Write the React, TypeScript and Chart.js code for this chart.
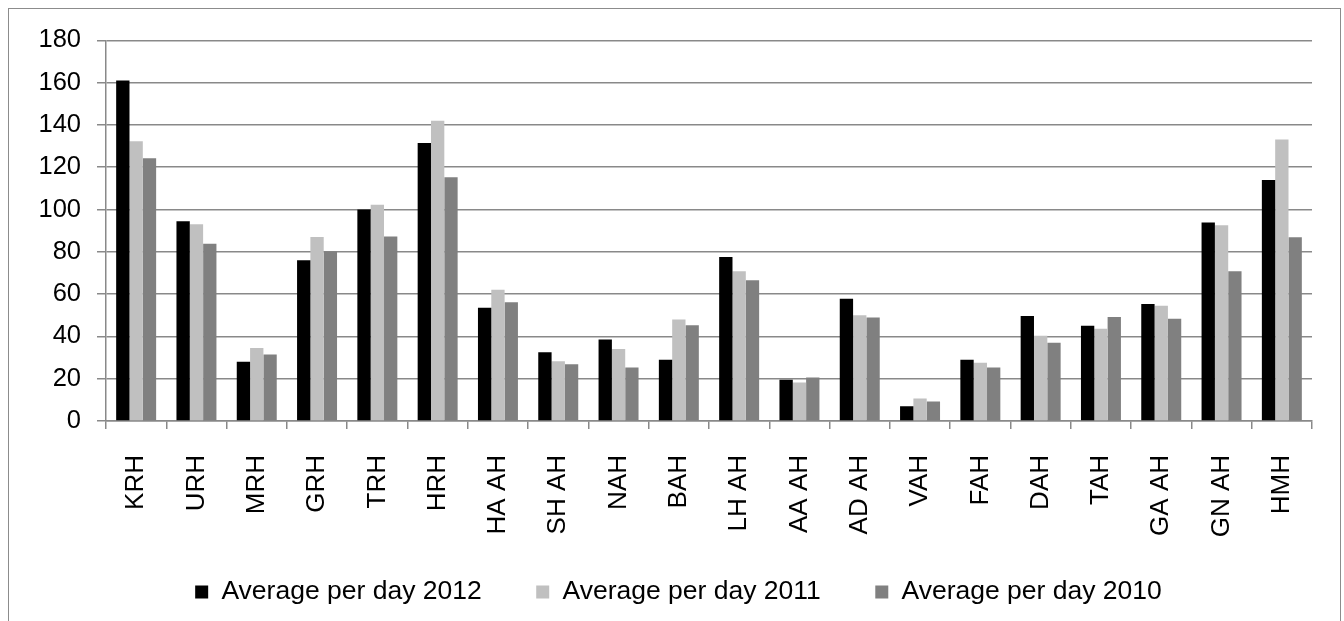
import React, { useEffect, useRef } from "react";
import { Chart, registerables } from "chart.js";

Chart.register(...registerables);

const categories = [
  "KRH", "URH", "MRH", "GRH", "TRH", "HRH", "HA AH", "SH AH", "NAH", "BAH",
  "LH AH", "AA AH", "AD AH", "VAH", "FAH", "DAH", "TAH", "GA AH", "GN AH", "HMH",
];
const avg2012 = [161, 94.5, 28, 76, 100, 131.5, 53.5, 32.5, 38.5, 29, 77.5, 19.5, 57.8, 7, 29, 49.7, 45, 55.3, 93.8, 114];
const avg2011 = [132.3, 93, 34.5, 87, 102.3, 142, 62, 28.3, 34, 48, 70.8, 18.2, 50, 10.6, 27.5, 40.3, 43.6, 54.5, 92.5, 133.1];
const avg2010 = [124.2, 83.8, 31.4, 80.2, 87.2, 115.2, 56.1, 26.8, 25.3, 45.3, 66.6, 20.6, 48.9, 9.2, 25.3, 37, 49.2, 48.4, 70.8, 86.9];
const seriesLabels = ["Average per day 2012", "Average per day 2011", "Average per day 2010"];
const seriesColors = ["#000000", "#c0c0c0", "#808080"];
const yMin = 0;
const yMax = 180;
const yStep = 20;

const FONT = "'Liberation Sans', Arial, sans-serif";
const GRID = "#898989";

export default function App() {
  const ref = useRef<HTMLCanvasElement | null>(null);

  useEffect(() => {
    if (!ref.current) return;
    const values = [avg2012, avg2011, avg2010];
    const chart = new Chart(ref.current, {
      type: "bar",
      data: {
        labels: categories,
        datasets: values.map((v, i) => ({
          label: seriesLabels[i],
          data: v,
          backgroundColor: seriesColors[i],
          borderWidth: 0,
          categoryPercentage: 0.663,
          barPercentage: 1,
        })),
      },
      options: {
        animation: false,
        responsive: false,
        devicePixelRatio: 1,
        layout: { padding: { left: 36, right: 28, top: 28, bottom: 5.75 } },
        plugins: {
          title: { display: false },
          tooltip: { enabled: false },
          legend: {
            position: "bottom",
            labels: {
              boxWidth: 13,
              boxHeight: 13,
              padding: 54.5,
              color: "#000",
              font: { family: FONT, size: 26.5 },
            },
          },
        },
        scales: {
          x: {
            offset: true,
            grid: {
              offset: true,
              drawOnChartArea: false,
              drawTicks: true,
              tickLength: 8,
              color: GRID,
              lineWidth: 1.5,
            },
            border: { display: true, color: GRID, width: 1.5 },
            ticks: {
              autoSkip: false,
              minRotation: 90,
              maxRotation: 90,
              padding: 26,
              color: "#000",
              font: { family: FONT, size: 26 },
            },
            afterFit: (scale: any) => {
              scale.height = 103.25;
              scale._computeLabelArea = () => null;
            },
          },
          y: {
            min: yMin,
            max: yMax,
            ticks: {
              stepSize: yStep,
              padding: 16,
              color: "#000",
              font: { family: FONT, size: 25.5 },
            },
            grid: {
              color: GRID,
              lineWidth: 1.5,
              drawTicks: true,
              tickLength: 9,
            },
            border: { display: true, color: GRID, width: 1.5 },
            afterFit: (scale: any) => {
              scale.width = 61;
              scale._computeLabelArea = () => null;
            },
          },
        },
      },
    });
    return () => chart.destroy();
  }, []);

  return (
    <div style={{ position: "fixed", left: 0, top: 0, width: 1344, height: 621, overflow: "hidden", background: "#fff" }}>
      <div
        style={{
          position: "absolute",
          left: 8,
          top: 8,
          width: 1331,
          height: 700,
          border: "1.5px solid #8c8c8c",
          background: "#fff",
        }}
      >
        <canvas ref={ref} width={1331} height={612} style={{ display: "block", width: 1331, height: 612 }} />
      </div>
    </div>
  );
}
